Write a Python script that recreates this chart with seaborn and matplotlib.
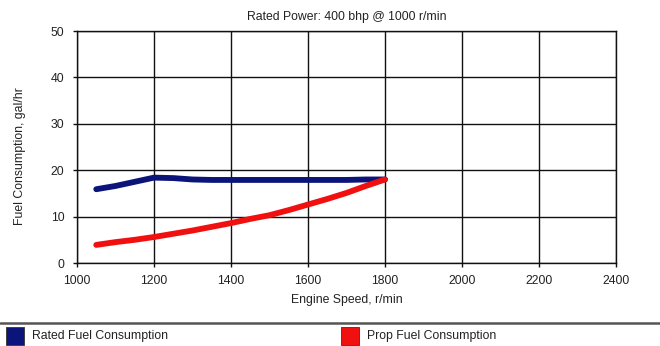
import numpy as np
import pandas as pd
import matplotlib
matplotlib.use("Agg")
import matplotlib.pyplot as plt
from matplotlib.patches import Rectangle
from matplotlib.lines import Line2D
import seaborn as sns

# Engine speed, r/min
speed = [1050, 1100, 1150, 1200, 1250, 1300, 1350, 1400, 1450,
         1500, 1550, 1600, 1650, 1700, 1750, 1800]
# Fuel consumption, gal/hr
rated_fuel = [15.9, 16.6, 17.5, 18.4, 18.3, 18.0, 17.9, 17.9, 17.9,
              17.9, 17.9, 17.9, 17.9, 17.9, 18.0, 18.0]
prop_fuel = [3.9, 4.5, 5.0, 5.6, 6.3, 7.0, 7.8, 8.6, 9.5,
             10.3, 11.4, 12.6, 13.8, 15.1, 16.6, 18.0]

series_names = ["Rated Fuel Consumption", "Prop Fuel Consumption"]
series_colors = ["#0b1478", "#f01010"]
x_ticks = [1000, 1200, 1400, 1600, 1800, 2000, 2200, 2400]
y_ticks = [0, 10, 20, 30, 40, 50]

df = pd.concat([
    pd.DataFrame({"speed": speed, "fuel": rated_fuel, "series": series_names[0]}),
    pd.DataFrame({"speed": speed, "fuel": prop_fuel, "series": series_names[1]}),
])

sns.set_theme(style="white")
plt.rcParams["font.family"] = ["Liberation Sans", "DejaVu Sans"]

W, H = 660, 346
fig = plt.figure(figsize=(W / 100, H / 100), dpi=100)
ax = fig.add_axes([77 / W, 1 - 263 / H, (616 - 77) / W, (263 - 31) / H])

sns.lineplot(data=df, x="speed", y="fuel", hue="series",
             palette=dict(zip(series_names, series_colors)),
             linewidth=4.2, solid_capstyle="round", legend=False, ax=ax,
             sort=False, estimator=None)

ax.set_xlim(1000, 2400)
ax.set_ylim(0, 50)
ax.set_xticks(x_ticks)
ax.set_yticks(y_ticks)
ax.grid(True, color="#111111", linewidth=1.0)
ax.set_axisbelow(True)
for s in ax.spines.values():
    s.set_color("#111111")
    s.set_linewidth(1.0)
ax.tick_params(axis="both", length=3, width=1, color="#111111",
               labelsize=8.8, labelcolor="#222222", pad=6,
               bottom=True, left=True)

ax.set_xlabel("Engine Speed, r/min", fontsize=8.8, color="#222222", labelpad=5)
ax.set_ylabel("Fuel Consumption, gal/hr", fontsize=8.8, color="#222222")
ax.yaxis.set_label_coords(-0.095, 0.46)
ax.set_title("Rated Power: 400 bhp @ 1000 r/min", fontsize=8.8,
             color="#222222", pad=8)

# Legend strip below the chart
fig.add_artist(Line2D([0, 1], [1 - 323 / H, 1 - 323 / H],
                      transform=fig.transFigure, color="#555555", linewidth=1.8))
legend_items = [(6, series_names[0], series_colors[0]),
                (341, series_names[1], series_colors[1])]
for x0, name, col in legend_items:
    fig.add_artist(Rectangle((x0 / W, 1 - 345 / H), 18 / W, 18 / H,
                             transform=fig.transFigure, facecolor=col,
                             edgecolor="#333333", linewidth=0.6))
    fig.text((x0 + 26) / W, 1 - 336 / H, name, fontsize=8.8,
             color="#222222", va="center", ha="left")

fig.savefig("out.png", dpi=100)
